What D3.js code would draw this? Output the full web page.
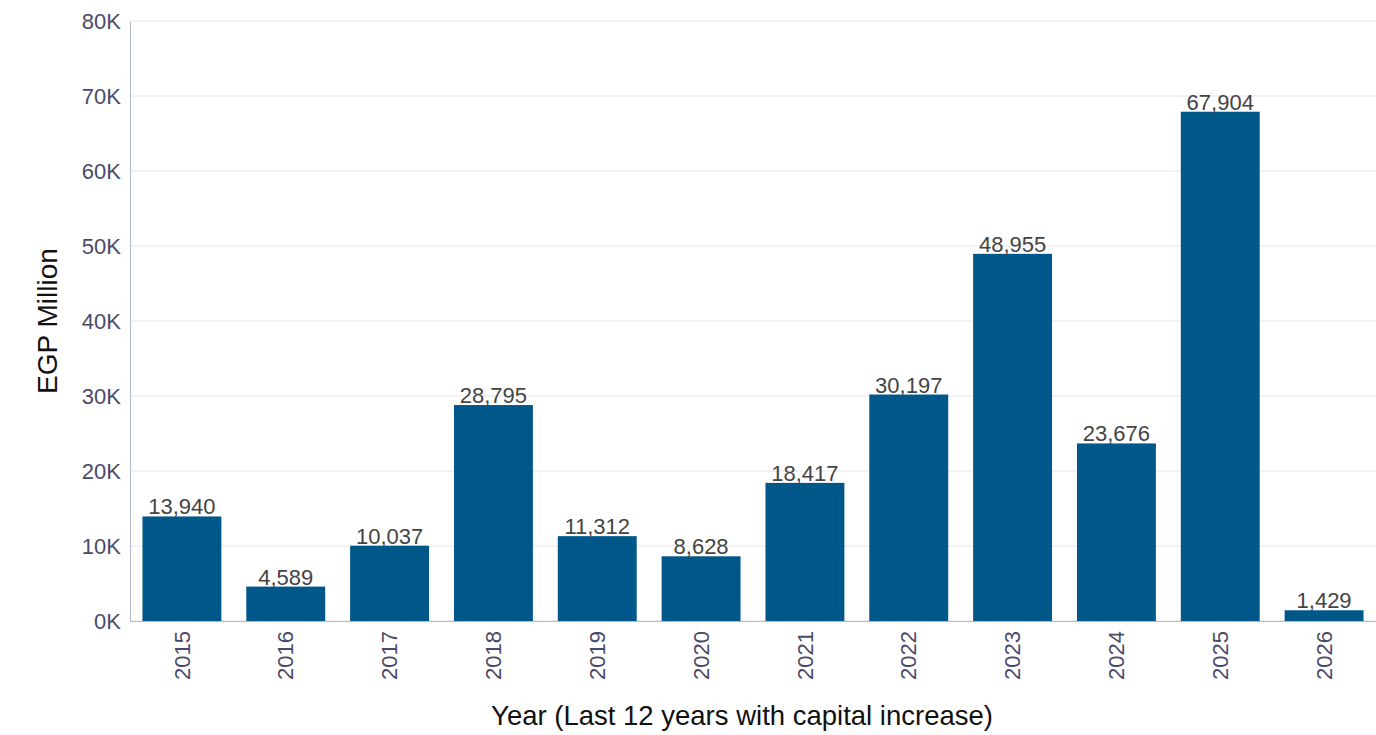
<!DOCTYPE html>
<html>
<head>
<meta charset="utf-8">
<script src="https://cdn.jsdelivr.net/npm/d3@7"></script>
<style>
  body { margin: 0; background: #fff; }
  svg { display: block; font-family: "Liberation Sans", Arial, sans-serif; }
</style>
</head>
<body>
<div id="chart"></div>
<script>
// Capital increase by year (EGP Million)
const years = ["2015", "2016", "2017", "2018", "2019", "2020", "2021", "2022", "2023", "2024", "2025", "2026"];
const values = [13940, 4589, 10037, 28795, 11312, 8628, 18417, 30197, 48955, 23676, 67904, 1429];
const yTicks = [0, 10000, 20000, 30000, 40000, 50000, 60000, 70000, 80000];

const W = 1376, H = 735;
const margin = { top: 21, right: 0, bottom: 114, left: 130 };
const width = W - margin.left - margin.right;
const height = H - margin.top - margin.bottom;

const svg = d3.select("#chart")
    .append("svg")
    .attr("width", W)
    .attr("height", H);

const g = svg.append("g")
    .attr("transform", `translate(${margin.left},${margin.top})`);

const x = d3.scaleBand()
    .domain(years)
    .range([0, width])
    .paddingInner(0.24)
    .paddingOuter(0.12);

const y = d3.scaleLinear()
    .domain([0, 80000])
    .range([height, 0]);

// gridlines
g.selectAll(".grid")
    .data(yTicks)
    .enter()
    .append("line")
    .attr("x1", 0)
    .attr("x2", width)
    .attr("y1", d => y(d))
    .attr("y2", d => y(d))
    .attr("stroke", "#e4e4ee")
    .attr("stroke-width", 1);

// bars
g.selectAll(".bar")
    .data(values)
    .enter()
    .append("rect")
    .attr("x", (d, i) => x(years[i]))
    .attr("y", d => y(d))
    .attr("width", x.bandwidth())
    .attr("height", d => height - y(d))
    .attr("fill", "#00578a");

// value labels
g.selectAll(".label")
    .data(values)
    .enter()
    .append("text")
    .attr("x", (d, i) => x(years[i]) + x.bandwidth() / 2)
    .attr("y", d => y(d) - 2)
    .attr("text-anchor", "middle")
    .attr("fill", "#444444")
    .style("font-size", "22px")
    .text(d => d3.format(",")(d));

// y axis
const yAxis = g.append("g")
    .call(d3.axisLeft(y).tickValues(yTicks).tickSize(0).tickPadding(9)
        .tickFormat(d => (d / 1000) + "K"));
yAxis.select(".domain").attr("stroke", "#b4b8cc");
yAxis.selectAll("text")
    .attr("fill", "#4a4a68")
    .style("font-size", "22px")
    .style("font-family", "\"Liberation Sans\", Arial, sans-serif");

// x axis
const xAxis = g.append("g")
    .attr("transform", `translate(0,${height})`)
    .call(d3.axisBottom(x).tickSize(0).tickPadding(8));
xAxis.select(".domain").attr("stroke", "#b4b8cc");
xAxis.selectAll("text")
    .attr("fill", "#4a4a68")
    .style("font-size", "22px")
    .style("font-family", "\"Liberation Sans\", Arial, sans-serif")
    .attr("text-anchor", "end")
    .attr("transform", "rotate(-90)")
    .attr("dx", "-10")
    .attr("dy", "0.35em")
    .attr("x", 0)
    .attr("y", 0);

// axis titles
svg.append("text")
    .attr("transform", `translate(57,${margin.top + height / 2}) rotate(-90)`)
    .attr("text-anchor", "middle")
    .attr("fill", "#111")
    .style("font-size", "28px")
    .text("EGP Million");

svg.append("text")
    .attr("x", margin.left + width / 2 - 11)
    .attr("y", 725)
    .attr("text-anchor", "middle")
    .attr("fill", "#111")
    .style("font-size", "27.5px")
    .text("Year (Last 12 years with capital increase)");
</script>
</body>
</html>
